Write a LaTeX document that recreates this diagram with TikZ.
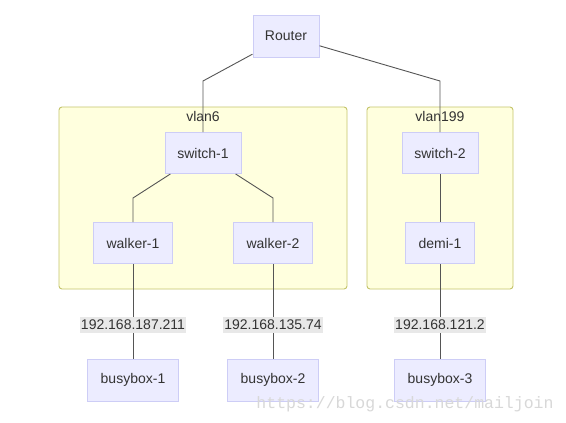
\documentclass[tikz,border=0pt]{standalone}
\usepackage{fontspec}
\setmainfont{Liberation Sans}
\newfontfamily\wmfont{Liberation Mono}
\definecolor{nodefill}{HTML}{ECECFF}
\definecolor{nodedraw}{HTML}{CDCDF6}
\definecolor{clfill}{HTML}{FFFFDE}
\definecolor{cldraw}{HTML}{C4C46A}
\definecolor{txt}{HTML}{333333}
\definecolor{lbl}{HTML}{E8E8E8}
\definecolor{edge}{HTML}{555555}
\definecolor{wm}{HTML}{D8D8D8}
\begin{document}
\begin{tikzpicture}[x=1pt,y=-1pt,
  box/.style={draw=nodedraw,fill=nodefill,line width=1pt,text=txt,font=\fontsize{14}{16}\selectfont,inner sep=0pt},
  cluster/.style={draw=cldraw,fill=clfill,line width=0.9pt,rounded corners=3pt},
  cltitle/.style={text=txt,font=\fontsize{14}{16}\selectfont,inner sep=0pt},
  elabel/.style={fill=lbl,text=txt,font=\fontsize{14}{16}\selectfont,inner sep=1pt,minimum height=16pt},
  link/.style={draw=edge,line width=0.9pt}]
\useasboundingbox (0,0) rectangle (566,423);
\fill[white] (0,0) rectangle (566,423);
% clusters
\draw[cluster] (59,107) rectangle (347,289);
\draw[cluster] (367,107) rectangle (513,289);
\node[cltitle] (t6) at (203,116) {vlan6};
\node[cltitle] (t199) at (440,116) {vlan199};
% nodes
\node[box,minimum width=66pt,minimum height=42pt] (router) at (286,36) {Router};
\node[box,minimum width=76pt,minimum height=41pt] (sw1) at (203,153) {switch-1};
\node[box,minimum width=76pt,minimum height=41pt] (sw2) at (440,153) {switch-2};
\node[box,minimum width=79pt,minimum height=41pt] (w1) at (133,243) {walker-1};
\node[box,minimum width=79pt,minimum height=41pt] (w2) at (273,243) {walker-2};
\node[box,minimum width=69pt,minimum height=41pt] (d1) at (440,243) {demi-1};
\node[box,minimum width=91pt,minimum height=42pt] (b1) at (133,380) {busybox-1};
\node[box,minimum width=91pt,minimum height=42pt] (b2) at (273,380) {busybox-2};
\node[box,minimum width=91pt,minimum height=42pt] (b3) at (440,380) {busybox-3};
% bend points
\coordinate (r1) at (203,81);
\coordinate (r2) at (440,81);
\coordinate (s1) at (133,198);
\coordinate (s2) at (273,198);
% edges
\draw[link] (router) -- (r1) -- (sw1);
\draw[link] (router) -- (r2) -- (sw2);
\draw[link] (sw1) -- (s1) -- (w1);
\draw[link] (sw1) -- (s2) -- (w2);
\draw[link] (sw2) -- (d1);
\draw[link] (w1) -- (b1);
\draw[link] (w2) -- (b2);
\draw[link] (d1) -- (b3);
% edge labels
\node[elabel] (l1) at (133,325) {192.168.187.211};
\node[elabel] (l2) at (273,325) {192.168.135.74};
\node[elabel] (l3) at (440,325) {192.168.121.2};
% watermark
\node[text=wm,font=\wmfont\fontsize{16.5}{18}\selectfont,inner sep=0pt] (wmk) at (405,404) {https://blog.csdn.net/mailjoin};
\end{tikzpicture}
\end{document}
